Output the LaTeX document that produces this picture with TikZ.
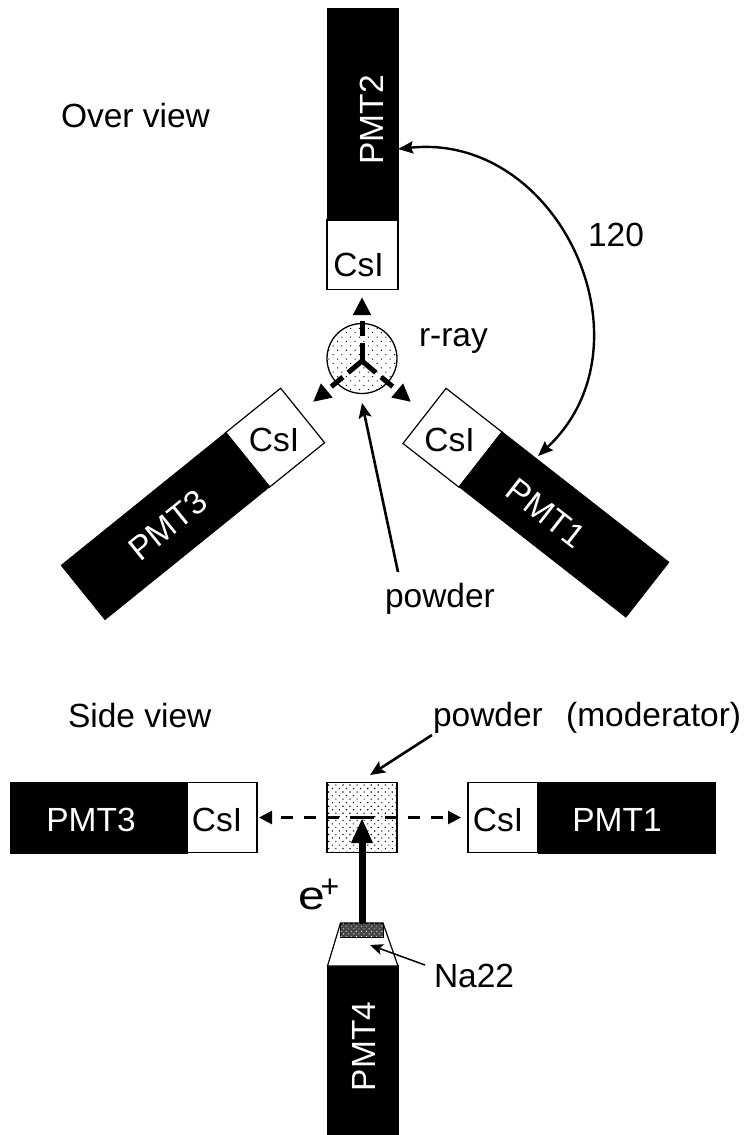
\documentclass[tikz,border=0pt]{standalone}
\usepackage{fontspec}
\setmainfont{Liberation Sans}
\usetikzlibrary{arrows.meta,patterns.meta}
\tikzset{
  every node/.style={font=\fontsize{33.5}{38}\selectfont,inner sep=0pt,outer sep=0pt},
  pmtbox/.style={draw=black,fill=black,minimum height=70pt,line width=0.5pt},
  pmttext/.style={text=white},
  csibox/.style={draw=black,fill=white,minimum width=70pt,minimum height=70pt,line width=1.2pt},
  lab/.style={anchor=base west},
  dotcircle/.style={pattern={Dots[distance=6.2pt,radius=0.72pt,angle=45]},pattern color=black},
  dotbox/.style={pattern={Dots[distance=5pt,radius=0.8pt,angle=45]},pattern color=black},
  gamma/.style={line width=5pt,dash pattern=on 18pt off 7pt on 15pt off 100pt,-{Triangle[length=18pt,width=17pt]}},
  sidegamma/.style={line width=2.6pt,dash pattern=on 12pt off 11pt,-{Triangle[length=13pt,width=13pt]}},
  pointer/.style={line width=2.6pt,-{Stealth[length=15pt,width=13pt,inset=3pt]}},
  thinpointer/.style={line width=1.5pt,-{Stealth[length=13pt,width=11pt,inset=3pt]}},
  anglearc/.style={line width=2.4pt,{Stealth[length=15pt,width=12pt,inset=2pt]}-{Stealth[length=15pt,width=12pt,inset=2pt]}}
}
\begin{document}
\begin{tikzpicture}[x=1pt,y=-1pt]
\useasboundingbox (0,0) rectangle (746,1135);
% Over view
\node[csibox,minimum width=71pt] (csi2) at (362.5,254.5) {};
\node[pmtbox,minimum width=212pt,minimum height=71pt,rotate=90] (pmt2) at (362.5,114) {};
\node[pmttext,rotate=90] (t2) at (371.5,120) {PMT2};
\node (c2) at (358.5,264.5) {CsI};
\node[csibox,minimum width=71pt,rotate=-38] (csi1) at (452.5,437.75) {};
\node[pmtbox,minimum width=212pt,rotate=-38] (pmt1) at (564,524.5) {};
\node[pmttext,rotate=-38] (t1) at (546,513) {PMT1};
\node (c1) at (449.5,439.5) {CsI};
\node[csibox,minimum width=71pt,rotate=38.9] (csi3) at (275,437.75) {};
\node[pmtbox,minimum width=212pt,rotate=38.9] (pmt3) at (165.5,526) {};
\node[pmttext,rotate=38.9] (t3) at (168,525) {PMT3};
\node (c3) at (274,439.5) {CsI};
\node[circle,draw=black,line width=1.3pt,fill=white,minimum size=70pt] (pow) at (362,358.5) {};
\fill[dotcircle] (pow.center) circle (34.5pt);
\coordinate (y0) at (362,361);
\coordinate (g2) at (362,297);
\coordinate (g1) at (411,402);
\coordinate (g3) at (313,402);
\draw[gamma] (y0) -- (g2);
\draw[gamma] (y0) -- (g1);
\draw[gamma] (y0) -- (g3);
\node[lab] (over) at (61,127) {Over view};
\node[lab] (rray) at (419,346) {r-ray};
\node[lab] (a120) at (588,246) {120};
\node[lab] (pow1) at (385,607) {powder};
\coordinate (arcA) at (398,149);
\coordinate (arcB) at (538,456);
\draw[anglearc] (arcA) to[out=6,in=43,looseness=1.23] (arcB);
\coordinate (powtail) at (398,572);
\coordinate (powtip) at (362,403);
\draw[pointer] (powtail) -- (powtip);
% Side view
\node[csibox] (scsi3) at (222,817.5) {};
\node[pmtbox,minimum width=177.5pt,minimum height=71pt] (spmt3) at (98.5,817.5) {};
\node[pmttext] (st3) at (91,820) {PMT3};
\node (sc3) at (217,820) {CsI};
\node[draw=black,line width=1.2pt,fill=white,minimum width=70pt,minimum height=70pt] (box) at (362,817.5) {};
\fill[dotbox] (box.south west) rectangle (box.north east);
\draw[line width=1.2pt] (box.south west) rectangle (box.north east);
\node[csibox] (scsi1) at (503,817.5) {};
\node[pmtbox,minimum width=177pt,minimum height=71pt] (spmt1) at (626.5,817.5) {};
\node[pmttext] (st1) at (617,820) {PMT1};
\node (sc1) at (498,820) {CsI};
\node[pmtbox,minimum width=170pt,minimum height=71pt,rotate=90] (pmt4) at (362.5,1050) {};
\node[pmttext,rotate=90] (t4) at (363.5,1046.5) {PMT4};
\draw[line width=1.2pt,fill=white] (327.5,966) -- (340.5,923) coordinate (t1c) -- (383,923) coordinate (t2c) -- (398,966) -- cycle;
\node[draw=black,fill=black!72,line width=1pt,minimum width=43pt,minimum height=14pt] (na) at (362,930) {};
\fill[pattern={Dots[distance=3.6pt,radius=0.6pt,angle=45]},pattern color=white] (na.south west) rectangle (na.north east);
\coordinate (sl) at (259,817.5);
\coordinate (sr) at (461,817.5);
\draw[sidegamma] (box.center) -- (sl);
\draw[sidegamma] (box.center) -- (sr);
\coordinate (ep) at (362,818);
\draw[line width=7pt,-{Triangle[length=25pt,width=20pt]}] (na.north) -- (ep);
\node[lab] (side) at (68,727) {Side view};
\node[lab] (pow2) at (433,726) {powder\hspace{14pt} (moderator)};
\node[lab] (na22) at (434,987) {Na22};
\node[lab,font=\fontsize{40}{42}\selectfont] (eplus) at (298,909) {\scalebox{1.2}[1]{e}\hspace{-4pt}\raisebox{12pt}{\fontsize{32}{34}\selectfont +}};
\coordinate (p2tail) at (432,735);
\coordinate (p2tip) at (370,775);
\draw[pointer] (p2tail) -- (p2tip);
\coordinate (natail) at (425,965);
\coordinate (natip) at (370,945);
\draw[thinpointer] (natail) -- (natip);
\end{tikzpicture}
\end{document}
